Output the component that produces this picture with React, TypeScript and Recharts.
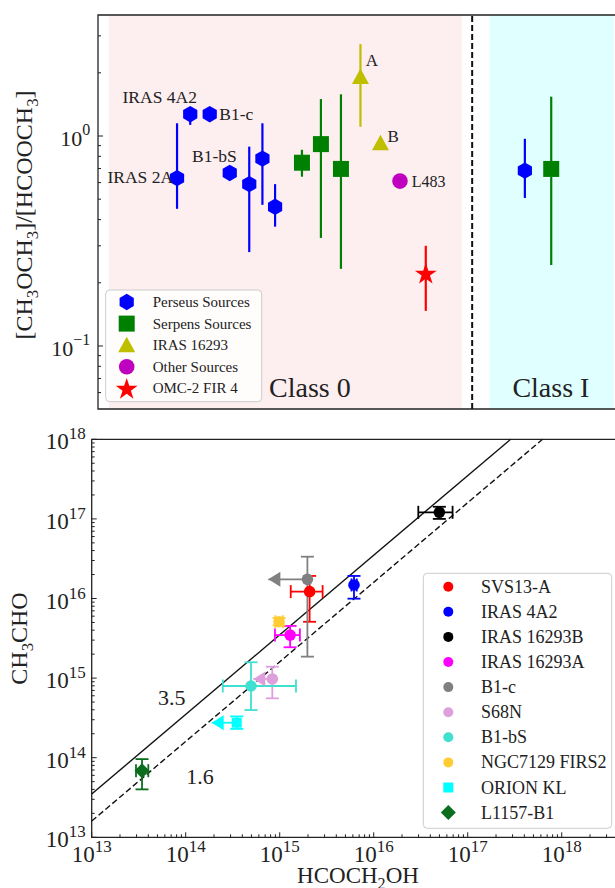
import React from 'react'
import {
  ScatterChart,
  Scatter,
  XAxis,
  YAxis,
  ErrorBar,
  ReferenceArea,
  ReferenceLine,
} from 'recharts'

const FONT = "'Liberation Serif', 'DejaVu Serif', serif"

// ---- top panel: [CH3OCH3]/[HCOOCH3] per source (pos = place along the source axis) ----
const perseusNames = ['IRAS 2A', 'IRAS 4A2', 'B1-c', 'B1-bS', '', '', '', '']
const perseusPos = [15.0, 17.5, 21.2, 25.0, 28.7, 31.2, 33.6, 81.0]
const perseusRatio = [0.63, 1.27, 1.27, 0.667, 0.59, 0.78, 0.46, 0.684]
const perseusLow = [0.45, 1.13, 1.27, 0.667, 0.28, 0.47, 0.37, 0.507]
const perseusHigh = [1.15, 1.34, 1.27, 0.667, 0.89, 1.15, 0.59, 0.97]

const serpensPos = [38.7, 42.3, 46.1, 86.0]
const serpensRatio = [0.746, 0.915, 0.697, 0.697]
const serpensLow = [0.64, 0.327, 0.233, 0.243]
const serpensHigh = [0.86, 1.5, 1.58, 1.54]

const irasNames = ['A', 'B']
const irasPos = [49.8, 53.6]
const irasRatio = [1.91, 0.923]
const irasLow = [1.107, 0.923]
const irasHigh = [2.74, 0.923]

const otherNames = ['L483']
const otherPos = [57.3]
const otherRatio = [0.61]
const otherLow = [0.61]
const otherHigh = [0.61]

const omcPos = [62.2]
const omcRatio = [0.222]
const omcLow = [0.147]
const omcHigh = [0.3]

// class 0 / class I regions along the source axis
const class0Span = [2.1, 69.0]
const classDivider = 71.0
const class1Span = [74.3, 97.9]

const topTicks = [0.06, 0.07, 0.08, 0.09, 0.1, 0.2, 0.3, 0.4, 0.5, 0.6, 0.7, 0.8, 0.9, 1, 2, 3]

// ---- bottom panel: CH3CHO vs HCOCH2OH column densities ----
const sources = ['SVS13-A', 'IRAS 4A2', 'IRAS 16293B', 'IRAS 16293A', 'B1-c', 'S68N', 'B1-bS', 'NGC7129 FIRS2', 'ORION KL', 'L1157-B1']
const glyX = [2.08e15, 6.17e15, 4.99e16, 1.29e15, 1.97e15, 8.34e14, 4.95e14, 9.84e14, 3.49e14, 3.43e13]
const glyLow = [1.31e15, 5.8e15, 2.98e16, 8.9e14, null, null, 2.48e14, 9.0e14, null, 2.96e13]
const glyHigh = [2.86e15, 6.6e15, 6.9e16, 1.64e15, null, null, 1.49e15, 1.08e15, null, 4.0e13]
// upper limits on HCOCH2OH: where the arrow points
const glyLimit = [null, null, null, null, 7.57e14, 5.24e14, null, null, 1.89e14, null]
const acetY = [1.22e16, 1.48e16, 1.21e17, 3.47e15, 1.74e16, 9.75e14, 7.96e14, 5.11e15, 2.75e14, 6.87e13]
const acetLow = [5.1e15, 9.95e15, 1.0e17, 2.44e15, 1.86e15, 5.57e14, 3.97e14, 4.6e15, 2.3e14, 4.0e13]
const acetHigh = [1.92e16, 1.92e16, 1.42e17, 4.52e15, 3.35e16, 1.39e15, 1.58e15, 5.7e15, 3.3e14, 9.6e13]

const ratios = [3.5, 1.6]

const botTicks: number[] = []
for (let e = 13; e <= 18; e++) for (let m = 1; m <= 9; m++) botTicks.push(m * 10 ** e)

// styles
const srcColors = ['#ff0000', '#0000ff', '#000000', '#ff00ff', '#808080', '#dda0dd', '#40e0d0', '#ffcc33', '#00ffff', '#0a6e1e']
const srcMarkers = ['circle', 'circle', 'circle', 'circle', 'circle', 'circle', 'circle', 'circle', 'square', 'diamond']

const labelPlace: Record<string, { dx: number; dy: number; anchor: string; size: number }> = {
  'IRAS 2A': { dx: -4, dy: 5, anchor: 'end', size: 17.5 },
  'IRAS 4A2': { dx: -30.5, dy: -11.3, anchor: 'middle', size: 17.5 },
  'B1-c': { dx: 9.6, dy: 6, anchor: 'start', size: 17.5 },
  'B1-bS': { dx: -15.4, dy: -11, anchor: 'middle', size: 17.5 },
  A: { dx: 5.4, dy: -10.8, anchor: 'start', size: 17 },
  B: { dx: 7, dy: -1.6, anchor: 'start', size: 17 },
  L483: { dx: 11.7, dy: 5.5, anchor: 'start', size: 16 },
}

const rows = (pos: number[], val: number[], lo: number[], hi: number[], names?: string[]) =>
  pos.map((p, i) => ({ pos: p, val: val[i], err: [val[i] - lo[i], hi[i] - val[i]], name: names ? names[i] : '' }))

function hexPath(cx: number, cy: number, r: number) {
  const pts = [-90, -30, 30, 90, 150, 210].map((a) => {
    const t = (a * Math.PI) / 180
    return `${cx + r * Math.cos(t)},${cy + r * Math.sin(t)}`
  })
  return `M${pts.join('L')}Z`
}

function starPath(cx: number, cy: number, R: number) {
  const r = R * 0.382
  const pts = []
  for (let i = 0; i < 10; i++) {
    const t = ((-90 + i * 36) * Math.PI) / 180
    const rr = i % 2 === 0 ? R : r
    pts.push(`${cx + rr * Math.cos(t)},${cy + rr * Math.sin(t)}`)
  }
  return `M${pts.join('L')}Z`
}

function marker(kind: string, cx: number, cy: number, color: string, big = true) {
  switch (kind) {
    case 'hex':
      return <path d={hexPath(cx, cy, 8.2)} fill={color} />
    case 'bigsquare':
      return <rect x={cx - 8} y={cy - 8} width={16} height={16} fill={color} />
    case 'triangle':
      return <path d={`M${cx},${cy - 8.5}L${cx + 8.5},${cy + 7}L${cx - 8.5},${cy + 7}Z`} fill={color} />
    case 'star':
      return <path d={starPath(cx, cy + 1, 11.5)} fill={color} />
    case 'bigcircle':
      return <circle cx={cx} cy={cy} r={7.8} fill={color} />
    case 'square':
      return <rect x={cx - 5} y={cy - 5} width={10} height={10} fill={color} />
    case 'diamond':
      return <path d={`M${cx},${cy - 7.5}L${cx + 7.5},${cy}L${cx},${cy + 7.5}L${cx - 7.5},${cy}Z`} fill={color} />
    default:
      return <circle cx={cx} cy={cy} r={big ? 5.8 : 5} fill={color} />
  }
}

const topShape = (kind: string, color: string) => (p: any) => {
  const name = p.payload?.name
  const place = name ? labelPlace[name] : undefined
  return (
    <g>
      {marker(kind, p.cx, p.cy, color)}
      {place && (
        <text x={p.cx + place.dx} y={p.cy + place.dy} textAnchor={place.anchor as any} fontSize={place.size} fontFamily={FONT} fill="#222">
          {name}
        </text>
      )}
    </g>
  )
}

const arrowShape = (color: string) => (p: any) => (
  <path d={`M${p.cx},${p.cy}L${p.cx + 12},${p.cy - 7.5}L${p.cx + 12},${p.cy + 7.5}Z`} fill={color} />
)

function isMajor(v: number) {
  const e = Math.log10(v)
  return Math.abs(e - Math.round(e)) < 1e-6
}

function expLabel(v: number) {
  const e = Math.round(Math.log10(v))
  return e < 0 ? `\u2212${-e}` : `${e}`
}

const makeYTick = (base: number, sup: number, dx: number, dy: number, supDy: number) => (p: any) => {
  const v = p.payload.value
  const major = isMajor(v)
  return (
    <g>
      <line x1={p.x} x2={p.x + (major ? 5 : 3)} y1={p.y} y2={p.y} stroke="#222" strokeWidth={1} />
      {major && (
        <text x={p.x - dx} y={p.y + dy} textAnchor="end" fontSize={base} fontFamily={FONT} fill="#222">
          10
          <tspan dy={supDy} fontSize={sup}>
            {expLabel(v)}
          </tspan>
        </text>
      )}
    </g>
  )
}

const XTick = (p: any) => {
  const v = p.payload.value
  const major = isMajor(v)
  return (
    <g>
      <line x1={p.x} x2={p.x} y1={p.y} y2={p.y - (major ? 5 : 3)} stroke="#222" strokeWidth={1} />
      {major && (
        <text x={p.x} y={p.y + 24.4} textAnchor="middle" fontSize={23} fontFamily={FONT} fill="#222">
          10
          <tspan dy={-10} fontSize={17}>
            {expLabel(v)}
          </tspan>
        </text>
      )}
    </g>
  )
}

function Chem({ f, x, y, size, rotate, anchor = 'middle' }: { f: string; x: number; y: number; size: number; rotate?: number; anchor?: string }) {
  const segs: { t: string; sub: boolean }[] = []
  for (const ch of f) {
    const sub = /[0-9]/.test(ch)
    const last = segs[segs.length - 1]
    if (last && last.sub === sub) last.t += ch
    else segs.push({ t: ch, sub })
  }
  const shift = size * 0.25
  let prev = false
  return (
    <text
      transform={`translate(${x},${y})${rotate ? ` rotate(${rotate})` : ''}`}
      textAnchor={anchor as any}
      fontSize={size}
      fontFamily={FONT}
      fill="#222"
    >
      {segs.map((s, i) => {
        const dy = s.sub && !prev ? shift : !s.sub && prev ? -shift : 0
        prev = s.sub
        return (
          <tspan key={i} dy={dy} fontSize={s.sub ? size * 0.7 : size}>
            {s.t}
          </tspan>
        )
      })}
    </text>
  )
}

const topSeries = [
  { label: 'Perseus Sources', kind: 'hex', color: '#0000ff', data: rows(perseusPos, perseusRatio, perseusLow, perseusHigh, perseusNames) },
  { label: 'Serpens Sources', kind: 'bigsquare', color: '#008000', data: rows(serpensPos, serpensRatio, serpensLow, serpensHigh) },
  { label: 'IRAS 16293', kind: 'triangle', color: '#bfbf00', data: rows(irasPos, irasRatio, irasLow, irasHigh, irasNames) },
  { label: 'Other Sources', kind: 'bigcircle', color: '#bf00bf', data: rows(otherPos, otherRatio, otherLow, otherHigh, otherNames) },
  { label: 'OMC-2 FIR 4', kind: 'star', color: '#ff0000', data: rows(omcPos, omcRatio, omcLow, omcHigh) },
]

const botSeries = sources.map((name, i) => ({
  name,
  color: srcColors[i],
  kind: srcMarkers[i],
  hasX: glyLow[i] !== null,
  limit: glyLimit[i],
  data: [
    {
      x: glyX[i],
      y: acetY[i],
      errX: glyLow[i] !== null ? [glyX[i] - (glyLow[i] as number), (glyHigh[i] as number) - glyX[i]] : [0, 0],
      limX: glyLimit[i] !== null ? [glyX[i] - (glyLimit[i] as number), 0] : [0, 0],
      errY: [acetY[i] - acetLow[i], acetHigh[i] - acetY[i]],
    },
  ],
}))

const X_MAX = 4.71e18

export default function App() {
  return (
    <div style={{ position: 'absolute', left: 0, top: 0, width: 615, height: 888, overflow: 'hidden', background: '#fff' }}>
      <div style={{ position: 'absolute', left: 0, top: 0 }}>
        <ScatterChart width={625} height={420} margin={{ top: 15, right: 0, bottom: 11, left: 0 }}>
          <XAxis type="number" dataKey="pos" domain={[0, 100]} hide allowDataOverflow />
          <YAxis
            type="number"
            dataKey="val"
            scale="log"
            domain={[0.0501, 3.77]}
            allowDataOverflow
            width={98}
            ticks={topTicks}
            interval={0}
            tickSize={0}
            tickMargin={0}
            axisLine={false}
            tick={makeYTick(22, 16, 7.7, 9.7, -10.7)}
          />
          <ReferenceArea x1={class0Span[0]} x2={class0Span[1]} y1={0.0501} y2={3.77} fill="#fdeef0" fillOpacity={1} stroke="none" />
          <ReferenceArea x1={class1Span[0]} x2={class1Span[1]} y1={0.0501} y2={3.77} fill="#e0ffff" fillOpacity={1} stroke="none" />
          <ReferenceArea x1={0} x2={100} y1={0.0501} y2={3.77} fill="none" stroke="#222" strokeWidth={1.3} />
          <ReferenceLine x={classDivider} stroke="#111" strokeWidth={2} strokeDasharray="6 3" />
          {topSeries.map((s) => (
            <Scatter key={s.label} data={s.data} fill={s.color} shape={topShape(s.kind, s.color)} isAnimationActive={false}>
              <ErrorBar dataKey="err" direction="y" width={0} stroke={s.color} strokeWidth={2.2} />
            </Scatter>
          ))}
        </ScatterChart>
      </div>

      <div style={{ position: 'absolute', left: 0, top: 420 }}>
        <ScatterChart width={625} height={468} margin={{ top: 19.3, right: 0, bottom: 0, left: 0 }}>
          <XAxis
            type="number"
            dataKey="x"
            scale="log"
            domain={[1e13, X_MAX]}
            allowDataOverflow
            height={50.7}
            ticks={botTicks.filter((t) => t <= X_MAX)}
            interval={0}
            tickSize={0}
            tickMargin={0}
            axisLine={false}
            tick={XTick}
          />
          <YAxis
            type="number"
            dataKey="y"
            scale="log"
            domain={[1e13, 1e18]}
            allowDataOverflow
            width={91.7}
            ticks={botTicks.filter((t) => t <= 1e18)}
            interval={0}
            tickSize={0}
            tickMargin={0}
            axisLine={false}
            tick={makeYTick(23, 17, 6, 10, -10)}
          />
          <ReferenceArea x1={1e13} x2={X_MAX} y1={1e13} y2={1e18} fill="none" stroke="#222" strokeWidth={1.3} />
          {ratios.map((r, i) => (
            <ReferenceLine
              key={r}
              segment={[
                { x: 1e13, y: r * 1e13 },
                { x: 1e18 / r, y: 1e18 },
              ]}
              stroke="#111"
              strokeWidth={1.4}
              strokeDasharray={i === 0 ? undefined : '6 3'}
            />
          ))}
          {botSeries.map((s) => (
            <Scatter
              key={s.name}
              data={s.data}
              fill={s.color}
              shape={(p: any) => marker(s.kind, p.cx, p.cy, s.color)}
              isAnimationActive={false}
            >
              {s.hasX && <ErrorBar dataKey="errX" direction="x" width={6.5} stroke={s.color} strokeWidth={1.8} />}
              {s.limit !== null && <ErrorBar dataKey="limX" direction="x" width={0} stroke={s.color} strokeWidth={1.8} />}
              <ErrorBar dataKey="errY" direction="y" width={6.5} stroke={s.color} strokeWidth={1.8} />
            </Scatter>
          ))}
          {botSeries
            .filter((s) => s.limit !== null)
            .map((s) => (
              <Scatter
                key={`${s.name}-limit`}
                data={[{ x: s.limit, y: s.data[0].y }]}
                fill={s.color}
                shape={arrowShape(s.color)}
                isAnimationActive={false}
              />
            ))}
        </ScatterChart>
      </div>

      <svg style={{ position: 'absolute', left: 0, top: 0, pointerEvents: 'none' }} width={615} height={888}>
        {/* top panel */}
        <Chem f="[CH3OCH3]/[HCOOCH3]" x={32} y={215} size={24} rotate={-90} />
        <text x={309.9} y={396.5} textAnchor="middle" fontSize={28} fontFamily={FONT} fill="#222">
          Class 0
        </text>
        <text x={550.9} y={396.5} textAnchor="middle" fontSize={28} fontFamily={FONT} fill="#222">
          Class I
        </text>
        <rect x={105.7} y={290} width={156} height={111.7} rx={4} fill="#fff" fillOpacity={0.8} stroke="#ccc" />
        {topSeries.map((s, i) => (
          <g key={s.label}>
            {marker(s.kind, 126.7, 302 + i * 21.6, s.color)}
            <text x={152.7} y={302 + i * 21.6 + 5} fontSize={15} fontFamily={FONT} fill="#222">
              {s.label}
            </text>
          </g>
        ))}

        {/* bottom panel */}
        <Chem f="CH3CHO" x={27} y={638.5} size={24} rotate={-90} />
        <Chem f="HCOCH2OH" x={358} y={883} size={23} />
        <text x={171.7} y={704.5} textAnchor="middle" fontSize={22} fontFamily={FONT} fill="#222">
          {ratios[0]}
        </text>
        <text x={200} y={783.5} textAnchor="middle" fontSize={22} fontFamily={FONT} fill="#222">
          {ratios[1]}
        </text>
        <rect x={423.3} y={573.3} width={188.4} height={255} rx={4} fill="#fff" fillOpacity={0.8} stroke="#ccc" />
        {botSeries.map((s, i) => (
          <g key={s.name}>
            {marker(s.kind, 448.3, 586.7 + i * 25.1, s.color, false)}
            <text x={481} y={586.7 + i * 25.1 + 6} fontSize={18} fontFamily={FONT} fill="#222">
              {s.name}
            </text>
          </g>
        ))}
      </svg>
    </div>
  )
}
